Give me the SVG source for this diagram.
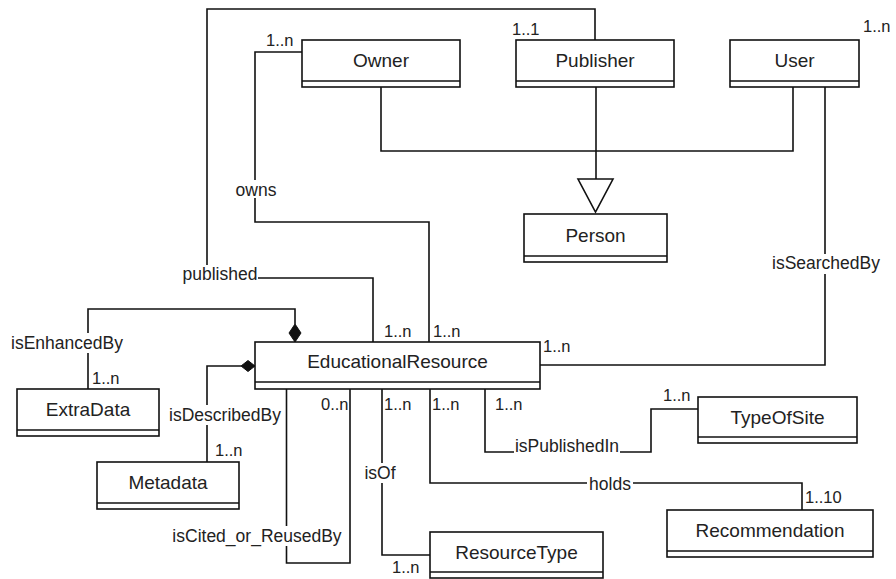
<svg xmlns="http://www.w3.org/2000/svg" width="896" height="579" viewBox="0 0 896 579">
<style>
.box{fill:#fff;stroke:#111;stroke-width:1.6}
.name{font-family:"Liberation Sans",Arial,sans-serif;font-size:19px;fill:#222;text-anchor:middle}
.edge{fill:none;stroke:#111;stroke-width:1.6}
.lbl{font-family:"Liberation Sans",Arial,sans-serif;font-size:17.5px;fill:#222;text-anchor:middle}
.mul{font-family:"Liberation Sans",Arial,sans-serif;font-size:16.5px;fill:#222}
.bg{fill:#fff}
</style>
<rect width="896" height="579" fill="#fff"/>
<g id="connectors">
  <!-- published -->
  <path class="edge" d="M595,40 V9 H207 V278 H373 V342"/>
  <!-- owns -->
  <path class="edge" d="M302,52 H255 V222 H429 V342"/>
  <!-- isSearchedBy -->
  <path class="edge" d="M540,365 H825 V87"/>
  <!-- isEnhancedBy -->
  <path class="edge" d="M88,389 V309 H295 V324"/>
  <polygon points="295,324 301,333 295,342 289,333" fill="#111" stroke="#111" stroke-width="1"/>
  <!-- isDescribedBy -->
  <path class="edge" d="M241,366 H207 V462"/>
  <polygon points="255,366 248,360.5 241,366 248,371.5" fill="#111" stroke="#111" stroke-width="1"/>
  <!-- isCited_or_ReusedBy -->
  <path class="edge" d="M286.5,389 V563 H350 V389"/>
  <!-- isOf -->
  <path class="edge" d="M382,389 V555 H430"/>
  <!-- holds -->
  <path class="edge" d="M430,389 V483 H802 V510"/>
  <!-- isPublishedIn -->
  <path class="edge" d="M485,389 V452 H651 V409 H698"/>
  <!-- generalization -->
  <path class="edge" d="M381,87 V151 H793 V87"/>
  <path class="edge" d="M596,87 V179"/>
  <polygon points="578,179 613,179 595.5,212" fill="#fff" stroke="#111" stroke-width="1.6"/>

  <!-- labels -->
  <rect class="bg" x="182" y="265" width="76" height="20"/>
  <text class="lbl" x="220" y="280">published</text>
  <rect class="bg" x="234" y="180" width="44" height="18"/>
  <text class="lbl" x="256" y="196">owns</text>
  <rect class="bg" x="773" y="254" width="106" height="20"/>
  <text class="lbl" x="826" y="269">isSearchedBy</text>
  <rect class="bg" x="12" y="333" width="112" height="20"/>
  <text class="lbl" x="67" y="349">isEnhancedBy</text>
  <rect class="bg" x="168" y="405" width="114" height="20"/>
  <text class="lbl" x="225" y="421">isDescribedBy</text>
  <rect class="bg" x="171" y="526" width="172" height="20"/>
  <text class="lbl" x="257" y="542">isCited_or_ReusedBy</text>
  <rect class="bg" x="363" y="463" width="34" height="20"/>
  <text class="lbl" x="380" y="479">isOf</text>
  <rect class="bg" x="587" y="475" width="46" height="18"/>
  <text class="lbl" x="610" y="490">holds</text>
  <rect class="bg" x="514" y="437" width="106" height="20"/>
  <text class="lbl" x="567" y="452">isPublishedIn</text>

  <!-- multiplicities -->
  <text class="mul" x="512" y="35">1..1</text>
  <text class="mul" x="266" y="46">1..n</text>
  <text class="mul" x="863" y="32">1..n</text>
  <text class="mul" x="384" y="337">1..n</text>
  <text class="mul" x="433" y="337">1..n</text>
  <text class="mul" x="543" y="352">1..n</text>
  <text class="mul" x="92" y="384">1..n</text>
  <text class="mul" x="215" y="456">1..n</text>
  <text class="mul" x="321" y="410">0..n</text>
  <text class="mul" x="384" y="410">1..n</text>
  <text class="mul" x="432" y="410">1..n</text>
  <text class="mul" x="495" y="410">1..n</text>
  <text class="mul" x="392" y="573">1..n</text>
  <text class="mul" x="663" y="401">1..n</text>
  <text class="mul" x="805" y="503">1..10</text>
</g>
<g id="Owner">
  <rect class="box" x="302" y="40" width="158" height="47"/>
  <line class="box" x1="302" y1="81" x2="460" y2="81"/>
  <text class="name" x="381" y="67">Owner</text>
</g>
<g id="Publisher">
  <rect class="box" x="516" y="40" width="158" height="47"/>
  <line class="box" x1="516" y1="81" x2="674" y2="81"/>
  <text class="name" x="595" y="67">Publisher</text>
</g>
<g id="User">
  <rect class="box" x="730" y="40" width="129" height="47"/>
  <line class="box" x1="730" y1="81" x2="859" y2="81"/>
  <text class="name" x="794.5" y="67">User</text>
</g>
<g id="Person">
  <rect class="box" x="524" y="214" width="143" height="48"/>
  <line class="box" x1="524" y1="256" x2="667" y2="256"/>
  <text class="name" x="595.5" y="242">Person</text>
</g>
<g id="EducationalResource">
  <rect class="box" x="255" y="342" width="285" height="47"/>
  <line class="box" x1="255" y1="382" x2="540" y2="382"/>
  <text class="name" x="397.5" y="368">EducationalResource</text>
</g>
<g id="ExtraData">
  <rect class="box" x="17" y="389" width="142" height="47"/>
  <line class="box" x1="17" y1="430" x2="159" y2="430"/>
  <text class="name" x="88" y="416">ExtraData</text>
</g>
<g id="Metadata">
  <rect class="box" x="97" y="462" width="142" height="47"/>
  <line class="box" x1="97" y1="503" x2="239" y2="503"/>
  <text class="name" x="168" y="489">Metadata</text>
</g>
<g id="TypeOfSite">
  <rect class="box" x="698" y="397" width="159" height="46"/>
  <line class="box" x1="698" y1="437" x2="857" y2="437"/>
  <text class="name" x="777.5" y="424">TypeOfSite</text>
</g>
<g id="Recommendation">
  <rect class="box" x="667" y="510" width="206" height="47"/>
  <line class="box" x1="667" y1="551" x2="873" y2="551"/>
  <text class="name" x="770" y="537">Recommendation</text>
</g>
<g id="ResourceType">
  <rect class="box" x="430" y="532" width="173" height="46"/>
  <line class="box" x1="430" y1="572" x2="603" y2="572"/>
  <text class="name" x="516.5" y="559">ResourceType</text>
</g>
</svg>
